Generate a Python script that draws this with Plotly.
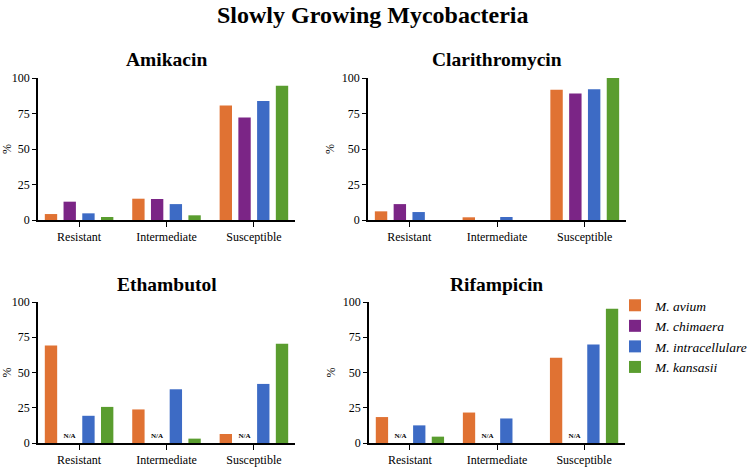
import plotly.graph_objects as go

categories = ["Resistant", "Intermediate", "Susceptible"]
species = ["M. avium", "M. chimaera", "M. intracellulare", "M. kansasii"]
colors = ["#E07233", "#7B2586", "#3D6BC5", "#5A9D2F"]

amikacin = {
    "M. avium": [4.2, 15.0, 80.6],
    "M. chimaera": [12.9, 14.8, 72.1],
    "M. intracellulare": [4.7, 11.2, 83.8],
    "M. kansasii": [2.1, 3.3, 94.6],
}
clarithromycin = {
    "M. avium": [6.1, 1.9, 91.8],
    "M. chimaera": [11.2, 0.0, 89.0],
    "M. intracellulare": [5.6, 2.1, 92.0],
    "M. kansasii": [0.0, 0.0, 100.0],
}
ethambutol = {
    "M. avium": [69.2, 23.8, 6.4],
    "M. chimaera": [None, None, None],
    "M. intracellulare": [19.3, 38.1, 41.9],
    "M. kansasii": [25.6, 3.1, 70.4],
}
rifampicin = {
    "M. avium": [18.4, 21.6, 60.5],
    "M. chimaera": [None, None, None],
    "M. intracellulare": [12.5, 17.4, 69.9],
    "M. kansasii": [4.5, 0.0, 95.3],
}

panels = [
    ("Amikacin", amikacin),
    ("Clarithromycin", clarithromycin),
    ("Ethambutol", ethambutol),
    ("Rifampicin", rifampicin),
]

W, H = 750, 470
def px(x): return x / W
def py(y): return 1 - y / H

domains = [
    ((38, 295), (78, 220)),
    ((368, 626), (78, 220)),
    ((38, 295), (302, 443)),
    ((369, 625), (302, 443)),
]

SERIF = "Liberation Serif"
fig = go.Figure()
layout = {}
annotations = []

for i, ((title, data), ((x0, x1), (y0, y1))) in enumerate(zip(panels, domains)):
    n = "" if i == 0 else str(i + 1)
    xa, ya = "x" + n, "y" + n
    for s, c in zip(species, colors):
        vals = data[s]
        na = all(v is None for v in vals)
        fig.add_trace(go.Bar(
            x=categories,
            y=[0 if v is None else v for v in vals],
            name="<i>" + s + "</i>",
            marker=dict(color=c, line=dict(width=0)),
            xaxis=xa, yaxis=ya,
            showlegend=(i == 3),
            legendgroup=s,
            text=["<b>N/A</b>"] * 3 if na else None,
            textposition="outside" if na else None,
            textfont=dict(family=SERIF, size=8, color="black"),
            cliponaxis=False,
        ))
    layout["xaxis" + n] = dict(
        domain=[px(x0), px(x1)], anchor=ya,
        range=[-0.47, 2.47],
        showline=True, linecolor="black", linewidth=1.6,
        ticks="outside", ticklen=5, tickwidth=1.3, tickcolor="black",
        showgrid=False, zeroline=False, automargin=False,
        tickfont=dict(family=SERIF, size=12, color="black"),
    )
    layout["yaxis" + n] = dict(
        domain=[py(y1), py(y0)], anchor=xa,
        range=[0, 100], tickvals=[0, 25, 50, 75, 100],
        showline=True, linecolor="black", linewidth=1.6,
        ticks="outside", ticklen=4, tickwidth=1.3, tickcolor="black",
        showgrid=False, zeroline=False, automargin=False,
        tickfont=dict(family=SERIF, size=12, color="black"),
        title=dict(text="%", font=dict(family=SERIF, size=12, color="black"), standoff=5),
    )
    annotations.append(dict(
        text="<b>" + title + "</b>", x=px((x0 + x1) / 2), y=py(y0 - 18),
        xref="paper", yref="paper", showarrow=False,
        font=dict(family=SERIF, size=19.5, color="black"),
        xanchor="center", yanchor="middle",
    ))

annotations.append(dict(
    text="<b>Slowly Growing Mycobacteria</b>", x=px(373), y=py(15),
    xref="paper", yref="paper", showarrow=False,
    font=dict(family=SERIF, size=24, color="black"),
    xanchor="center", yanchor="middle",
))

fig.update_layout(
    width=W, height=H,
    margin=dict(l=0, r=0, t=0, b=0, autoexpand=False),
    paper_bgcolor="white", plot_bgcolor="white",
    barmode="group", bargap=0.143, bargroupgap=0.34,
    annotations=annotations,
    font=dict(family=SERIF),
    legend=dict(
        x=px(615), y=py(290), xanchor="left", yanchor="top",
        font=dict(family=SERIF, size=13.5, color="black"),
        itemsizing="constant", tracegroupgap=0,
        bgcolor="rgba(0,0,0,0)",
    ),
    showlegend=True,
    **layout,
)

fig.write_html("out.html")
